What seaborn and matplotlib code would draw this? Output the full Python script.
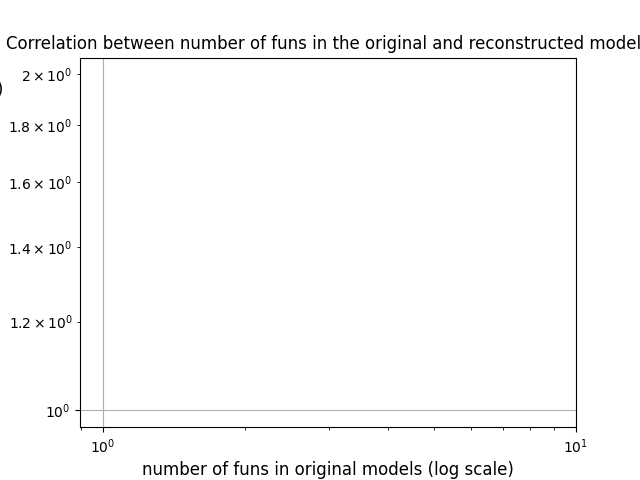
import numpy as np
import pandas as pd
import seaborn as sns
import matplotlib
matplotlib.use('Agg')
import matplotlib.pyplot as plt

# the reference shows no visible points
orig_funs = []
recon_funs = []

df = pd.DataFrame({'orig': pd.Series(orig_funs, dtype=float),
                   'recon': pd.Series(recon_funs, dtype=float)})

fig, ax = plt.subplots(figsize=(6.4, 4.8), dpi=100)
sns.scatterplot(data=df, x='orig', y='recon', ax=ax)

ax.set_xscale('log')
ax.set_yscale('log')
ax.set_xlim(0.894, 10)
ax.set_ylim(0.965, 2.07)
ax.grid(True, which='major')

ax.set_title('Correlation between number of funs in the original and reconstructed models',
             fontsize=12)
ax.set_xlabel('number of funs in original models (log scale)', fontsize=12)
# horizontal y label that runs off the left edge, as in the reference
ax.set_ylabel('number of funs in reconstructed models (log scale)', fontsize=12,
              rotation=0, ha='right', va='center')
ax.yaxis.set_label_coords(-0.155, 0.913)

fig.savefig('out.png')
